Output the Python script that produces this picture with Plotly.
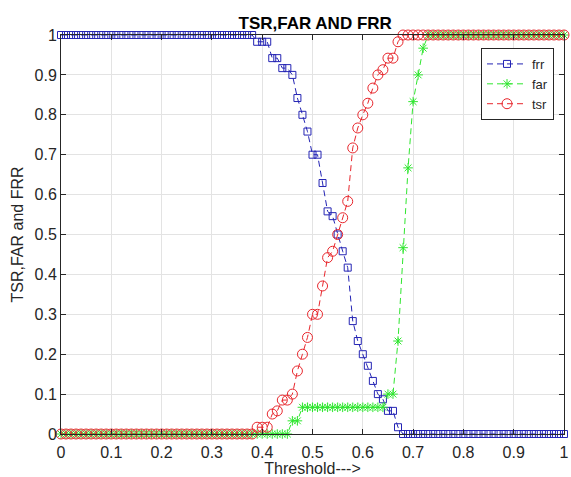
import plotly.graph_objects as go

thresholds = [0.00, 0.01, 0.02, 0.03, 0.04, 0.05, 0.06, 0.07, 0.08, 0.09,
              0.10, 0.11, 0.12, 0.13, 0.14, 0.15, 0.16, 0.17, 0.18, 0.19,
              0.20, 0.21, 0.22, 0.23, 0.24, 0.25, 0.26, 0.27, 0.28, 0.29,
              0.30, 0.31, 0.32, 0.33, 0.34, 0.35, 0.36, 0.37, 0.38, 0.39,
              0.40, 0.41, 0.42, 0.43, 0.44, 0.45, 0.46, 0.47, 0.48, 0.49,
              0.50, 0.51, 0.52, 0.53, 0.54, 0.55, 0.56, 0.57, 0.58, 0.59,
              0.60, 0.61, 0.62, 0.63, 0.64, 0.65, 0.66, 0.67, 0.68, 0.69,
              0.70, 0.71, 0.72, 0.73, 0.74, 0.75, 0.76, 0.77, 0.78, 0.79,
              0.80, 0.81, 0.82, 0.83, 0.84, 0.85, 0.86, 0.87, 0.88, 0.89,
              0.90, 0.91, 0.92, 0.93, 0.94, 0.95, 0.96, 0.97, 0.98, 0.99,
              1.00]

frr = [1, 1, 1, 1, 1, 1, 1, 1, 1, 1,
       1, 1, 1, 1, 1, 1, 1, 1, 1, 1,
       1, 1, 1, 1, 1, 1, 1, 1, 1, 1,
       1, 1, 1, 1, 1, 1, 1, 1, 1, 0.983,
       0.983, 0.983, 0.942, 0.942, 0.917, 0.917, 0.9, 0.842, 0.8, 0.758,
       0.7, 0.7, 0.629, 0.558, 0.546, 0.5, 0.458, 0.417, 0.283, 0.233,
       0.2, 0.171, 0.133, 0.1, 0.087, 0.058, 0.058, 0.017, 0, 0,
       0, 0, 0, 0, 0, 0, 0, 0, 0, 0,
       0, 0, 0, 0, 0, 0, 0, 0, 0, 0,
       0, 0, 0, 0, 0, 0, 0, 0, 0, 0,
       0]

far = [0, 0, 0, 0, 0, 0, 0, 0, 0, 0,
       0, 0, 0, 0, 0, 0, 0, 0, 0, 0,
       0, 0, 0, 0, 0, 0, 0, 0, 0, 0,
       0, 0, 0, 0, 0, 0, 0, 0, 0, 0,
       0, 0, 0, 0, 0, 0, 0.033, 0.033, 0.067, 0.067,
       0.067, 0.067, 0.067, 0.067, 0.067, 0.067, 0.067, 0.067, 0.067, 0.067,
       0.067, 0.067, 0.067, 0.067, 0.067, 0.1, 0.1, 0.233, 0.467, 0.667,
       0.833, 0.9, 0.967, 1, 1, 1, 1, 1, 1, 1,
       1, 1, 1, 1, 1, 1, 1, 1, 1, 1,
       1, 1, 1, 1, 1, 1, 1, 1, 1, 1,
       1]

tsr = [0, 0, 0, 0, 0, 0, 0, 0, 0, 0,
       0, 0, 0, 0, 0, 0, 0, 0, 0, 0,
       0, 0, 0, 0, 0, 0, 0, 0, 0, 0,
       0, 0, 0, 0, 0, 0, 0, 0, 0, 0.017,
       0.017, 0.017, 0.05, 0.058, 0.085, 0.085, 0.1, 0.158, 0.2, 0.242,
       0.3, 0.3, 0.371, 0.442, 0.458, 0.5, 0.542, 0.583, 0.717, 0.767,
       0.8, 0.829, 0.867, 0.9, 0.913, 0.942, 0.942, 0.983, 1, 1,
       1, 1, 1, 1, 1, 1, 1, 1, 1, 1,
       1, 1, 1, 1, 1, 1, 1, 1, 1, 1,
       1, 1, 1, 1, 1, 1, 1, 1, 1, 1,
       1]

x_ticks = [0, 0.1, 0.2, 0.3, 0.4, 0.5, 0.6, 0.7, 0.8, 0.9, 1]
x_tick_labels = ["0", "0.1", "0.2", "0.3", "0.4", "0.5", "0.6", "0.7", "0.8", "0.9", "1"]
y_ticks = [0, 0.1, 0.2, 0.3, 0.4, 0.5, 0.6, 0.7, 0.8, 0.9, 1]
y_tick_labels = ["0", "0.1", "0.2", "0.3", "0.4", "0.5", "0.6", "0.7", "0.8", "0.9", "1"]

BLUE = "#2424b4"
GREEN = "#2fe62f"
RED = "#e8262c"
AX = "#262626"
FONT = "Liberation Sans, Arial, sans-serif"

fig = go.Figure()
fig.add_trace(go.Scatter(
    x=thresholds, y=frr, name="frr", mode="lines+markers", cliponaxis=False,
    line=dict(color=BLUE, width=1, dash="6px,4px"),
    marker=dict(symbol="square-open", size=7, color=BLUE, line=dict(width=1, color=BLUE))))
fig.add_trace(go.Scatter(
    x=thresholds, y=far, name="far", mode="lines+markers", cliponaxis=False,
    line=dict(color=GREEN, width=1, dash="6px,4px"),
    marker=dict(symbol="asterisk-open", size=8, color=GREEN, line=dict(width=1, color=GREEN))))
fig.add_trace(go.Scatter(
    x=thresholds, y=tsr, name="tsr", mode="lines+markers", cliponaxis=False,
    line=dict(color=RED, width=1, dash="6px,4px"),
    marker=dict(symbol="circle-open", size=10, color=RED, line=dict(width=1, color=RED))))

axis_common = dict(
    showgrid=True, gridcolor="#e3e3e3", gridwidth=1,
    zeroline=False, showline=True, linecolor=AX, linewidth=1, mirror="ticks",
    ticks="inside", ticklen=5, tickcolor=AX, tickwidth=1,
    tickfont=dict(family=FONT, size=16, color=AX),
    ticklabeloverflow="allow",
)

fig.update_layout(
    width=571, height=477,
    margin=dict(l=61, r=2, t=35, b=42),
    paper_bgcolor="white", plot_bgcolor="white",
    font=dict(family=FONT, color=AX),
    title=dict(text="<b>TSR,FAR AND FRR</b>", x=0.5520, xanchor="center",
               y=0.951, yanchor="middle", font=dict(family=FONT, size=17, color="black")),
    xaxis=dict(range=[0, 1], tickvals=x_ticks, ticktext=x_tick_labels,
               ticklabelstandoff=4,
               title=dict(text="Threshold--->", font=dict(family=FONT, size=16, color=AX), standoff=3),
               **axis_common),
    yaxis=dict(range=[0, 1], tickvals=y_ticks, ticktext=y_tick_labels,
               title=dict(text="TSR,FAR and FRR", font=dict(family=FONT, size=16, color=AX), standoff=6),
               **axis_common),
    legend=dict(x=0.835, y=0.9675, xanchor="left", yanchor="top",
                bgcolor="white", bordercolor=AX, borderwidth=1,
                font=dict(family=FONT, size=13, color=AX),
                itemwidth=40, tracegroupgap=0),
    showlegend=True,
)

fig.write_html("out.html", config={"displayModeBar": False},
               post_script="document.body.style.margin='0px';")
